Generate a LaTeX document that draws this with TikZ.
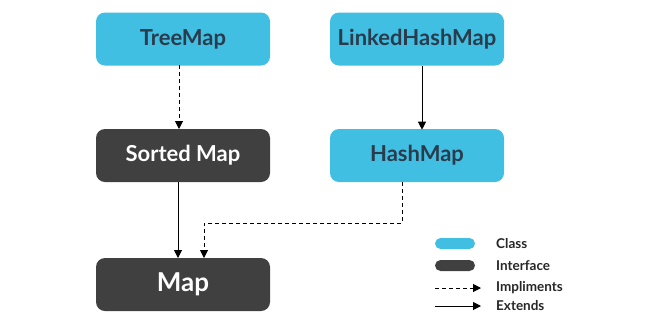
\documentclass[tikz,border=0pt]{standalone}
\usepackage{fontspec}
\setmainfont{Lato}
\usetikzlibrary{arrows.meta}
\definecolor{clsfill}{HTML}{41BFE3}
\definecolor{ifcfill}{HTML}{404040}
\definecolor{clstext}{HTML}{2A3B4C}
\begin{document}
\begin{tikzpicture}[x=1pt,y=-1pt,
  box/.style={rounded corners=9pt, minimum width=174pt, minimum height=53pt, inner sep=0pt, font=\fontsize{22}{25}\selectfont\bfseries},
  cls/.style={box, fill=clsfill, text=clstext},
  ifc/.style={box, fill=ifcfill, text=white},
  conn/.style={line width=1pt, -{Triangle[length=8pt,width=8pt]}},
  impl/.style={conn, dashed, dash pattern=on 4pt off 3pt},
  legtext/.style={anchor=west, font=\fontsize{13.5}{15}\selectfont\bfseries, text=black!85, inner sep=0pt},
  pill/.style={rounded corners=5.5pt, minimum width=40pt, minimum height=11pt, inner sep=0pt}]
\useasboundingbox (0,0) rectangle (660,330);
\node[cls] (tree) at (183,39) {TreeMap};
\node[cls] (lhm) at (417,39) {LinkedHashMap};
\node[ifc] (sorted) at (183,155.5) {Sorted Map};
\node[cls] (hash) at (417,155.5) {HashMap};
\node[ifc, font=\fontsize{26}{30}\selectfont\bfseries] (map) at (183,284.5) {Map};
\coordinate (hb) at (402,182);
\coordinate (bend1) at (402,223);
\coordinate (bend2) at (204,223);
\coordinate (mt) at (204,258);
\draw[impl] (179,65) -- (179,129);
\draw[conn] (lhm.south) ++(5,0) -- ++(0,64);
\draw[conn] (178,182) -- (178,258);
\draw[impl] (hb) -- (bend1) -- (bend2) -- (mt);
% legend
\node[pill, fill=clsfill] (lc) at (455,243.5) {};
\node[pill, fill=ifcfill] (li) at (455,265.5) {};
\coordinate (ld1) at (435,288);
\coordinate (ld2) at (481,288);
\coordinate (le1) at (435,306);
\coordinate (le2) at (481,306);
\draw[impl] (ld1) -- (ld2);
\draw[conn] (le1) -- (le2);
\node[legtext] (tc) at (496,243.5) {Class};
\node[legtext] (ti) at (496,265.5) {Interface};
\node[legtext] (tim) at (496,287.5) {Impliments};
\node[legtext] (te) at (496,306) {Extends};
\end{tikzpicture}
\end{document}
